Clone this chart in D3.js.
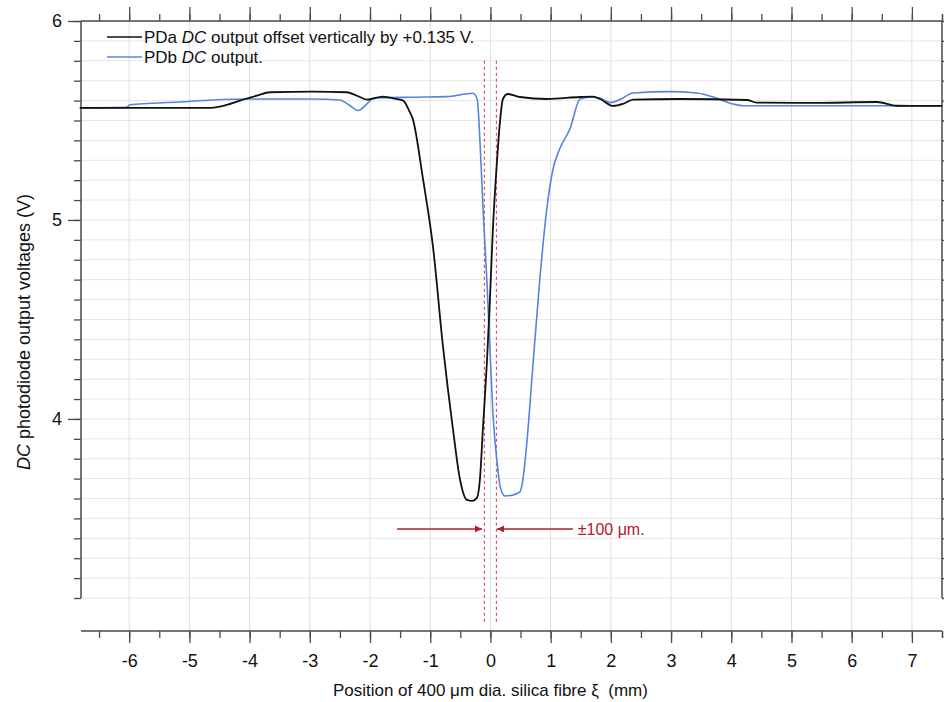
<!DOCTYPE html>
<html>
<head>
<meta charset="utf-8">
<script src="https://cdn.jsdelivr.net/npm/d3@7"></script>
<style>
  body { margin: 0; background: #fff; }
  svg { font-family: "Liberation Sans", Arial, sans-serif; }
</style>
</head>
<body>
<svg id="chart"></svg>
<script>
// PDa (black, offset +0.135 V)
var pdaX = [-6.82, -6.1, -4.71, -4.44, -4.16, -3.88, -3.66, -2.95, -2.39, -2.22, -2.05, -1.79, -1.56, -1.45,
    -1.34, -1.29, -1.12, -0.955, -0.789, -0.623, -0.507, -0.39, -0.3, -0.224, -0.174, -0.125, -0.058, -0.008,
    0.041, 0.108, 0.158, 0.208, 0.29, 0.49, 0.94, 1.49, 1.7, 1.82, 2.04, 2.2, 2.37, 3.15, 4.26, 4.42, 5.36,
    6.42, 6.75, 7.5];
var pdaV = [5.563, 5.563, 5.563, 5.574, 5.600, 5.625, 5.642, 5.645, 5.642, 5.625, 5.605, 5.620, 5.608, 5.600,
    5.543, 5.508, 5.206, 4.869, 4.367, 3.950, 3.698, 3.593, 3.588, 3.603, 3.698, 3.950, 4.286, 4.603,
    4.955, 5.291, 5.492, 5.608, 5.633, 5.618, 5.608, 5.618, 5.620, 5.608, 5.573, 5.583, 5.605, 5.608, 5.603, 5.590, 5.588,
    5.593, 5.574, 5.573];

// PDb (blue)
var pdbX = [-6.82, -6.04, -5.99, -5.16, -4.61, -4.05, -2.95, -2.5, -2.33, -2.2, -2.05, -1.95, -1.29, -0.73,
    -0.29, -0.22, -0.17, -0.12, -0.06, -0.01, 0.04, 0.11, 0.16, 0.24, 0.38, 0.49, 0.54, 0.6, 0.71, 0.82,
    0.93, 1.04, 1.15, 1.32, 1.49, 1.7, 1.82, 1.99, 2.15, 2.37, 2.98, 3.43, 3.7, 4.03, 4.2, 6.47, 7.5];
var pdbV = [5.563, 5.566, 5.579, 5.593, 5.603, 5.608, 5.608, 5.603, 5.574, 5.550, 5.583, 5.612, 5.617, 5.620,
    5.637, 5.608, 5.372, 5.040, 4.700, 4.367, 4.035, 3.784, 3.663, 3.613, 3.618, 3.633, 3.698, 3.864, 4.286, 4.700,
    5.040, 5.256, 5.357, 5.457, 5.608, 5.618, 5.613, 5.590, 5.605, 5.638, 5.645, 5.638, 5.618, 5.583, 5.574, 5.574, 5.573];

var xMajor = [-6, -5, -4, -3, -2, -1, 0, 1, 2, 3, 4, 5, 6, 7];
var yMajor = [4, 5, 6];
var fibreEdges = [-0.1, 0.1];   // the +-100 um markers

var width = 944;
var height = 702;

function drawChart() {
    var pLeft = 81, pRight = 942, pTop = 21, pBottom = 598, xAxisY = 631;

    var svg = d3.select("#chart").attr("width", width).attr("height", height);

    var x = d3.scaleLinear().domain([-6.8, 7.5]).range([pLeft, pRight]);
    var y = d3.scaleLinear().domain([3.1, 6]).range([pBottom, pTop]);

    var xMinor = d3.range(-6.5, 7.6, 0.5);
    var yMinor = d3.range(31, 61).map(function(d) { return d / 10; });

    // grid
    var grid = svg.append("g");
    grid.selectAll("line.h")
        .data(yMinor)
        .enter().append("line")
        .attr("x1", pLeft).attr("x2", pRight)
        .attr("y1", function(d) { return y(d); })
        .attr("y2", function(d) { return y(d); })
        .attr("stroke", "#e6e6e6")
        .attr("stroke-width", 1);
    grid.selectAll("line.v")
        .data(xMajor)
        .enter().append("line")
        .attr("x1", function(d) { return x(d); })
        .attr("x2", function(d) { return x(d); })
        .attr("y1", pTop).attr("y2", xAxisY)
        .attr("stroke", "#dedede")
        .attr("stroke-width", 1);

    // red dashed fibre markers
    svg.append("g").selectAll("line")
        .data(fibreEdges)
        .enter().append("line")
        .attr("x1", function(d) { return x(d); })
        .attr("x2", function(d) { return x(d); })
        .attr("y1", y(5.8)).attr("y2", y(2.98))
        .attr("stroke", "#d9545c")
        .attr("stroke-width", 1.2)
        .attr("stroke-dasharray", "3,3");

    // axes
    var axisColor = "#4a4a4a";
    function styleAxis(g) {
        g.select(".domain").remove();
        g.selectAll(".tick line").attr("stroke", axisColor).attr("stroke-width", 1.3);
        g.selectAll(".tick text").attr("fill", "#111").attr("font-size", 18)
            .attr("font-family", "'Liberation Sans Narrow', 'Liberation Sans', Arial, sans-serif");
    }
    var fmt = function(d) { return String(d); };

    // left
    svg.append("g").attr("transform", "translate(" + pLeft + ",0)")
        .call(d3.axisLeft(y).tickValues(yMinor).tickSize(7).tickFormat(""))
        .call(styleAxis);
    svg.append("g").attr("transform", "translate(" + pLeft + ",0)")
        .call(d3.axisLeft(y).tickValues(yMajor).tickSize(13).tickPadding(6).tickFormat(fmt))
        .call(styleAxis);
    // right
    svg.append("g").attr("transform", "translate(" + pRight + ",0)")
        .call(d3.axisRight(y).tickValues(yMinor).tickSize(4).tickFormat(""))
        .call(styleAxis);
    // top
    svg.append("g").attr("transform", "translate(0," + pTop + ")")
        .call(d3.axisTop(x).tickValues(xMinor.concat([7.5])).tickSize(7).tickFormat(""))
        .call(styleAxis);
    svg.append("g").attr("transform", "translate(0," + pTop + ")")
        .call(d3.axisTop(x).tickValues(xMajor).tickSize(14).tickFormat(""))
        .call(styleAxis);
    // bottom (detached)
    svg.append("g").attr("transform", "translate(0," + xAxisY + ")")
        .call(d3.axisBottom(x).tickValues(xMinor.concat([7.5])).tickSize(7).tickFormat(""))
        .call(styleAxis);
    svg.append("g").attr("transform", "translate(0," + xAxisY + ")")
        .call(d3.axisBottom(x).tickValues(xMajor).tickSize(12).tickPadding(11).tickFormat(fmt))
        .call(styleAxis);

    // frame lines
    svg.append("line").attr("x1", pLeft).attr("x2", pLeft).attr("y1", pTop).attr("y2", pBottom)
        .attr("stroke", axisColor).attr("stroke-width", 1.5);
    svg.append("line").attr("x1", pRight).attr("x2", pRight).attr("y1", pTop).attr("y2", pBottom)
        .attr("stroke", axisColor).attr("stroke-width", 1.5);
    svg.append("line").attr("x1", pLeft).attr("x2", pRight).attr("y1", pTop).attr("y2", pTop)
        .attr("stroke", axisColor).attr("stroke-width", 1.5);
    svg.append("line").attr("x1", pLeft).attr("x2", pRight).attr("y1", xAxisY).attr("y2", xAxisY)
        .attr("stroke", axisColor).attr("stroke-width", 1.5);

    // curves
    var line = d3.line()
        .x(function(d) { return x(d[0]); })
        .y(function(d) { return y(d[1]); })
        .curve(d3.curveMonotoneX);

    svg.append("path")
        .datum(d3.zip(pdbX, pdbV))
        .attr("d", line)
        .attr("fill", "none")
        .attr("stroke", "#5285de")
        .attr("stroke-width", 1.6);
    svg.append("path")
        .datum(d3.zip(pdaX, pdaV))
        .attr("d", line)
        .attr("fill", "none")
        .attr("stroke", "#111")
        .attr("stroke-width", 1.8);

    // legend
    var legend = svg.append("g").attr("font-size", 17).attr("fill", "#111");
    var legendRows = [
        { color: "#111", pre: "PDa ", post: " output offset vertically by +0.135 V." },
        { color: "#5b8ad8", pre: "PDb ", post: " output." }
    ];
    legendRows.forEach(function(r, i) {
        var ly = 37 + i * 20;
        legend.append("line").attr("x1", 107).attr("x2", 142).attr("y1", ly).attr("y2", ly)
            .attr("stroke", r.color).attr("stroke-width", 1.6);
        var t = legend.append("text").attr("x", 144).attr("y", ly + 6);
        t.append("tspan").text(r.pre);
        t.append("tspan").attr("font-style", "italic").text("DC");
        t.append("tspan").text(r.post);
    });

    // +-100 um annotation
    var red = "#b0202c";
    svg.append("defs").append("marker")
        .attr("id", "arrowhead")
        .attr("viewBox", "0 -5 10 10")
        .attr("refX", 10).attr("refY", 0)
        .attr("markerWidth", 9).attr("markerHeight", 7)
        .attr("markerUnits", "userSpaceOnUse")
        .attr("orient", "auto")
        .append("path").attr("d", "M0,-5L10,0L0,5Z").attr("fill", red);

    var arrowV = 3.447;
    svg.append("line").attr("x1", x(-1.55)).attr("x2", x(-0.14)).attr("y1", y(arrowV)).attr("y2", y(arrowV))
        .attr("stroke", red).attr("stroke-width", 1.5).attr("marker-end", "url(#arrowhead)");
    svg.append("line").attr("x1", x(1.37)).attr("x2", x(0.11)).attr("y1", y(arrowV)).attr("y2", y(arrowV))
        .attr("stroke", red).attr("stroke-width", 1.5).attr("marker-end", "url(#arrowhead)");
    svg.append("text").attr("x", x(1.45)).attr("y", y(arrowV) + 6)
        .attr("font-size", 16).attr("fill", red).text("\u00b1100 \u03bcm.");

    // axis titles
    svg.append("text")
        .attr("x", x(0)).attr("y", 696)
        .attr("text-anchor", "middle").attr("font-size", 17).attr("fill", "#111")
        .attr("xml:space", "preserve")
        .text("Position of 400 \u03bcm dia. silica fibre \u03be  (mm)");

    var yt = svg.append("text")
        .attr("transform", "translate(30,332) rotate(-90)")
        .attr("text-anchor", "middle").attr("font-size", 18).attr("fill", "#111");
    yt.append("tspan").attr("font-style", "italic").text("DC");
    yt.append("tspan").text(" photodiode output voltages (V)");
}

drawChart();
</script>
</body>
</html>
